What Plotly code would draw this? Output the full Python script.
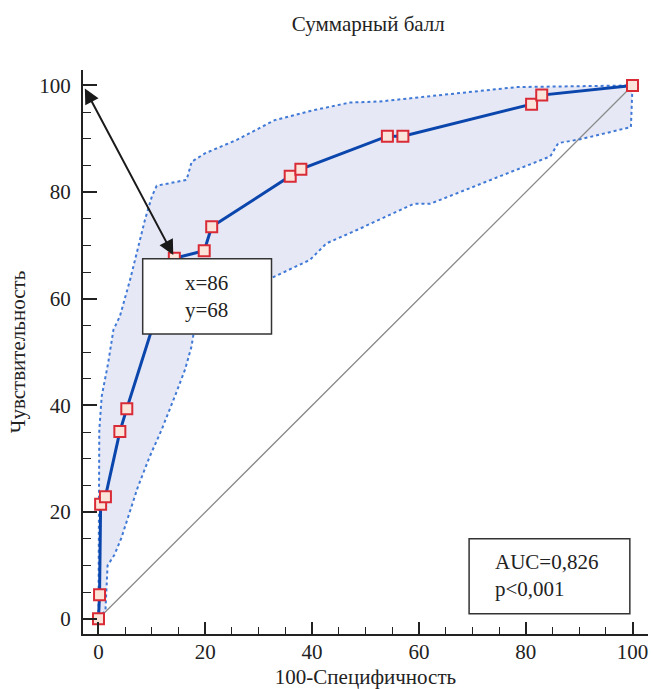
import plotly.graph_objects as go

# ROC points (100-Specificity, Sensitivity)
roc_x = [0, 0.2, 0.4, 1.3, 4.0, 5.3, 14.2, 19.8, 21.2, 35.9, 37.9, 54.1, 57.0, 81.1, 83.0, 100]
roc_y = [0, 4.5, 21.5, 22.9, 35.1, 39.4, 67.6, 69.0, 73.5, 83.0, 84.3, 90.5, 90.5, 96.5, 98.2, 100]

# Confidence band, upper boundary
upper_x = [0, 0.15, 0.6, 1.8, 2.8, 4.0, 5.9, 7.15, 8.7, 10.0, 10.9, 16.5, 17.45, 20.0, 25.9, 33.0, 40.0, 47.1, 52.7, 78.3, 100]
upper_y = [0, 35.4, 41.7, 47.9, 54.2, 56.7, 63.5, 68.5, 74.8, 79.2, 81.2, 82.3, 85.7, 87.3, 89.8, 93.5, 95.3, 96.8, 97.0, 99.7, 100]

# Confidence band, lower boundary
lower_x = [0, 1.3, 1.7, 3.0, 4.3, 5.6, 7.3, 9.5, 11.8, 14.3, 16.2, 17.4, 17.9, 25.0, 32.4, 39.6, 42.7, 48.4, 56.5, 59.0, 62.1, 84.6, 86.1, 90.2, 99.7, 100]
lower_y = [0, 1.5, 10.0, 12.0, 15.2, 19.2, 24.5, 30.2, 35.4, 41.7, 46.7, 51.0, 54.0, 59.0, 63.9, 67.3, 70.4, 72.9, 76.7, 77.8, 77.8, 86.7, 89.2, 89.9, 92.2, 100]

diag_x = [0, 100]
diag_y = [0, 100]

cut_x, cut_y = 14.0, 68.2
corner_x, corner_y = -2.7, 99.7

title_text = "Суммарный балл"
x_title = "100-Специфичность"
y_title = "Чувствительность"
cut_label = "x=86<br>y=68"
auc_label = "AUC=0,826<br>p<0,001"

FONT = "Liberation Serif, Times New Roman, serif"
INK = "#222222"

fig = go.Figure()

fig.add_trace(go.Scatter(
    x=upper_x + lower_x[::-1], y=upper_y + lower_y[::-1],
    fill="toself", fillcolor="rgb(230,232,246)", mode="lines",
    line=dict(width=0, color="rgba(0,0,0,0)"), hoverinfo="skip"))

fig.add_trace(go.Scatter(x=diag_x, y=diag_y, mode="lines",
                         line=dict(color="#8a8a8a", width=1.3), hoverinfo="skip"))

for bx, by in ((upper_x, upper_y), (lower_x, lower_y)):
    fig.add_trace(go.Scatter(x=bx, y=by, mode="lines",
                             line=dict(color="#4079d6", width=2, dash="dot")))

fig.add_trace(go.Scatter(
    x=roc_x, y=roc_y, mode="lines+markers",
    line=dict(color="#0b46ad", width=3),
    marker=dict(symbol="square", size=11, color="#fbe4da",
                line=dict(color="#d92b36", width=2))))

axis_common = dict(
    showgrid=False, zeroline=False, showline=True, linecolor=INK, linewidth=2,
    ticks="inside", tickwidth=2, tickcolor=INK, dtick=20, tick0=0,
    tickfont=dict(family=FONT, size=21, color=INK), automargin=False,
)

fig.update_layout(
    width=653, height=689,
    margin=dict(l=83, r=5, t=70, b=55),
    plot_bgcolor="white", paper_bgcolor="white",
    showlegend=False,
    font=dict(family=FONT, color=INK),
    title=dict(text=title_text, x=0.505, xref="paper", y=1 - 24 / 689, yanchor="middle",
               font=dict(family=FONT, size=21, color=INK)),
    xaxis=dict(range=[-2.9, 102.9], ticklen=12,
               minor=dict(dtick=5, tick0=0, ticks="inside", ticklen=7, tickwidth=1, tickcolor=INK),
               title=dict(text=x_title, font=dict(family=FONT, size=21, color=INK), standoff=9),
               ticklabelstandoff=-2,
               **axis_common),
    yaxis=dict(range=[-2.85, 102.9], ticklen=14,
               minor=dict(dtick=5, tick0=0, ticks="inside", ticklen=8, tickwidth=1, tickcolor=INK),
               title=dict(text=y_title, font=dict(family=FONT, size=21, color=INK), standoff=8),
               ticklabelstandoff=6,
               **axis_common),
)

fig.add_shape(type="rect", x0=8.28, x1=32.4, y0=53.4, y1=67.5, xref="x", yref="y",
              line=dict(color="#333333", width=1.5), fillcolor="white", layer="above")
fig.add_shape(type="rect", x0=69.4, x1=99.5, y0=0.94, y1=15.0, xref="x", yref="y",
              line=dict(color="#333333", width=1.5), fillcolor="white", layer="above")

fig.add_annotation(x=cut_x, y=cut_y, ax=corner_x, ay=corner_y, axref="x", ayref="y",
                   xref="x", yref="y", text="", showarrow=True,
                   arrowside="end+start", arrowhead=2, startarrowhead=2,
                   arrowsize=1.5, startarrowsize=1.5, arrowwidth=2, arrowcolor="#1a1a1a",
                   standoff=0, startstandoff=0)

fig.add_annotation(x=20.3, y=60.5, xref="x", yref="y", text=cut_label, showarrow=False,
                   font=dict(family=FONT, size=21, color=INK), align="left")
fig.add_annotation(x=73.9, y=8.15, xref="x", yref="y", text=auc_label, showarrow=False,
                   xanchor="left", font=dict(family=FONT, size=21, color=INK), align="left")

fig.write_html("out.html", config={"displayModeBar": False},
               post_script="document.body.style.margin='0';document.body.style.overflow='hidden';")
